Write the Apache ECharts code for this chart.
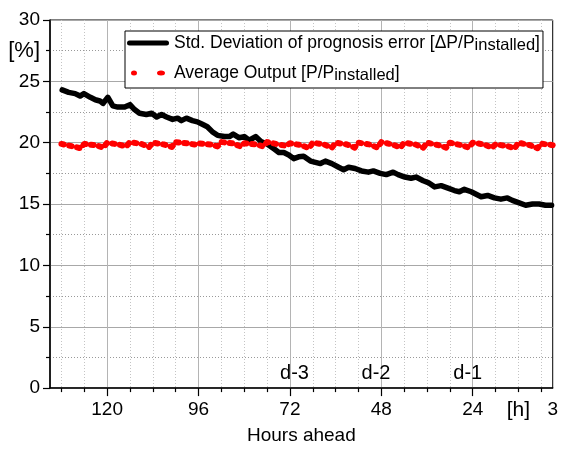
<!DOCTYPE html>
<html><head><meta charset="utf-8">
<script src="https://cdn.jsdelivr.net/npm/echarts@6/dist/echarts.min.js"></script>
<style>html,body{margin:0;padding:0;background:#fff}#c{width:561px;height:450px}</style>
</head><body><div id="c"></div>
<script>
const stdHours = [131.8,130.1,128.4,127.1,126.1,124.4,123.1,121.9,121.1,119.8,118.5,117.2,115.4,114.0,112.8,111.5,109.7,108.3,107.0,105.7,104.4,102.8,101.5,100.5,99.2,97.6,96.3,95.0,93.7,92.4,91.0,89.2,87.9,86.9,85.3,84.0,82.7,81.0,79.6,78.0,76.2,74.9,73.6,72.3,71.0,69.7,68.4,66.6,65.3,64.0,62.7,61.0,59.2,57.9,56.6,54.9,53.2,51.4,50.1,48.3,46.7,44.9,43.6,41.8,40.2,38.9,37.0,35.7,34.0,32.3,30.5,28.8,27.5,26.2,24.4,23.1,21.8,20.1,18.3,16.6,14.9,13.6,11.8,10.1,8.3,6.6,4.9,3.3];
const stdValues = [24.3,24.1,24.0,23.8,24.0,23.7,23.5,23.4,23.2,23.7,23.0,22.9,22.9,23.1,22.7,22.4,22.3,22.4,22.1,22.3,22.1,21.9,22.0,21.8,22.0,21.8,21.7,21.5,21.3,20.9,20.6,20.5,20.5,20.7,20.4,20.5,20.2,20.5,20.1,19.9,19.5,19.2,19.2,19.0,18.7,18.85,18.9,18.5,18.4,18.3,18.5,18.3,18.0,17.8,18.0,17.9,17.7,17.6,17.7,17.5,17.4,17.6,17.4,17.2,17.1,17.2,16.9,16.75,16.4,16.5,16.3,16.1,16.0,16.2,16.0,15.8,15.6,15.7,15.5,15.4,15.5,15.3,15.1,14.9,15.0,15.0,14.9,14.9];
const avgHours = [132,129,127,126,123,121,120,117,115,114,111,109,108,105,103,102,99,97,96,93,91,90,87,85,84,81,79,78,75,73,72,69,67,66,63,61,60,57,55,54,51,49,48,45,43,42,39,37,36,33,31,30,27,25,24,21,19,18,15,13,12,9,7,6,3];
const avgValues = [19.9,19.7,19.55,19.9,19.8,19.6,20.0,19.85,19.7,20.05,19.9,19.65,20.0,19.85,19.65,20.05,19.95,19.85,19.95,19.86,19.7,20.05,19.95,19.7,19.95,19.86,19.7,20.05,19.86,19.75,19.95,19.8,19.55,20.0,19.85,19.6,20.0,19.85,19.6,20.0,19.85,19.6,20.05,19.85,19.6,20.0,19.85,19.6,20.0,19.8,19.6,20.0,19.8,19.6,20.0,19.86,19.6,19.86,19.73,19.55,20.0,19.8,19.55,19.92,19.8];
const xMajorTicks = [120,96,72,48,24];
const xMinorTicks = [132,126,114,108,102,90,84,78,66,60,54,42,36,30,18,12,6];
const xLabelValues = [120,96,72,48,24,12,3];
const yMajorTicks = [0,5,10,15,20,25,30];
const yMinorTicks = [2.5,7.5,12.5,17.5,22.5,27.5];
const yLabelValues = [0,5,10,15,20,25,27.5,30];
const dayLabels = ['d-3','d-2','d-1'];
const dayHours = [70.8,49.4,25.3];
const dayLevel = 1.2;

const FF = 'Liberation Sans, Arial, sans-serif';
const chart = echarts.init(document.getElementById('c'), null, {renderer:'canvas'});
chart.setOption({
  animation:false,
  backgroundColor:'#fff',
  grid:{left:50, top:20, right:7, bottom:55, show:true, borderColor:'#000', borderWidth:1, backgroundColor:'transparent'},
  legend:{
    left:125, top:31, orient:'vertical', backgroundColor:'#fff', borderColor:'#000', borderWidth:1,
    padding:[1,3,4,2], itemGap:8, itemWidth:42, itemHeight:5,
    textStyle:{fontFamily:FF, fontSize:17.5, color:'#000', lineHeight:22,
      rich:{s:{fontFamily:FF, fontSize:16.5, color:'#000', lineHeight:8, verticalAlign:'bottom'}}},
    formatter: function (n) { return n === 'std' ? 'Std. Deviation of prognosis error [\u0394P/P{s|installed}]' : 'Average Output [P/P{s|installed}]'; },
    data:[
      {name:'std', icon:'path://M2.5,0 L39.5,0 A2.5,2.5 0 0 1 39.5,5 L2.5,5 A2.5,2.5 0 0 1 2.5,0 Z', itemStyle:{color:'#000'}},
      {name:'avg', icon:'path://M0,2.5 A3,2.5 0 1 0 6,2.5 A3,2.5 0 1 0 0,2.5 Z M26,2.5 A4,2.5 0 1 0 34,2.5 A4,2.5 0 1 0 26,2.5 Z', itemStyle:{color:'#f00'}}
    ]
  },
  xAxis:[
    {type:'value', min:3, max:135, inverse:true, position:'bottom',
     axisLine:{show:true, onZero:false, lineStyle:{color:'#000', width:1.5}},
     axisTick:{show:true, customValues:xMajorTicks, length:8, lineStyle:{color:'#000', width:1.2}},
     axisLabel:{customValues:xLabelValues, formatter: v => v === 12 ? '{u|[h]}' : String(v), margin:12,
       fontFamily:FF, fontSize:19, color:'#000', rich:{u:{fontFamily:FF, fontSize:21, color:'#000'}}},
     splitLine:{show:true, lineStyle:{color:'#b4b4b4', width:1}},
     name:'Hours ahead', nameLocation:'middle', nameGap:32,
     nameTextStyle:{fontFamily:FF, fontSize:19, color:'#000'}},
    {type:'value', min:3, max:135, inverse:true, position:'bottom',
     axisLine:{show:false}, axisLabel:{show:false},
     axisTick:{show:true, customValues:xMinorTicks, length:4, lineStyle:{color:'#000', width:1.2}},
     splitLine:{show:true, lineStyle:{color:'#c4c4c4', width:1, type:[1,2]}}}
  ],
  yAxis:[
    {type:'value', min:0, max:30, position:'left',
     axisLine:{show:true, lineStyle:{color:'#000', width:1.5}},
     axisTick:{show:true, customValues:yMajorTicks, length:7, lineStyle:{color:'#000', width:1.2}},
     axisLabel:{customValues:yLabelValues, formatter: v => v === 27.5 ? '{u|[%]}' : String(v), margin:10,
       fontFamily:FF, fontSize:19, color:'#000', rich:{u:{fontFamily:FF, fontSize:22, color:'#000'}}},
     splitLine:{show:true, lineStyle:{color:'#a8a8a8', width:1}}},
    {type:'value', min:0, max:30, position:'left',
     axisLine:{show:false}, axisLabel:{show:false},
     axisTick:{show:true, customValues:yMinorTicks, length:4, lineStyle:{color:'#000', width:1.2}},
     splitLine:{show:true, lineStyle:{color:'#999', width:1, type:[1,2]}}}
  ],
  series:[
    {name:'std', type:'line', xAxisIndex:0, yAxisIndex:0, symbol:'none',
     data: stdHours.map((h,i)=>[h, stdValues[i]]),
     lineStyle:{color:'#000', width:5.5, cap:'round', join:'round'}, itemStyle:{color:'#000'}, z:3},
    {name:'avg', type:'line', xAxisIndex:0, yAxisIndex:0, symbol:'none',
     data: avgHours.map((h,i)=>[h, avgValues[i]]),
     lineStyle:{color:'#f00', width:6, type:[2.5,5.5], cap:'round', join:'round'}, itemStyle:{color:'#f00'}, z:4},
    {name:'days', type:'scatter', xAxisIndex:0, yAxisIndex:0, symbolSize:0, silent:true,
     itemStyle:{opacity:1},
     data: dayHours.map((h,i)=>[h, dayLevel, dayLabels[i]]),
     label:{show:true, position:'inside', formatter: p => p.value[2], fontFamily:FF, fontSize:20, color:'#000', opacity:1}}
  ]
});
</script></body></html>
